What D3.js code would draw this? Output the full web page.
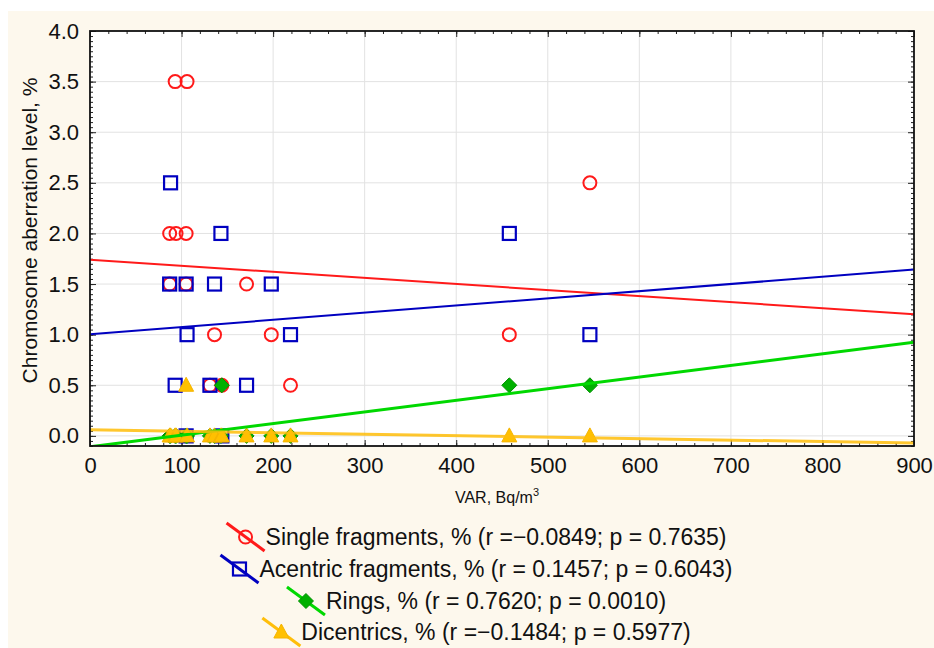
<!DOCTYPE html>
<html>
<head>
<meta charset="utf-8">
<script src="https://cdn.jsdelivr.net/npm/d3@7"></script>
<style>
  body { margin: 0; background: #fff; }
  svg { display: block; font-family: "Liberation Sans", Arial, sans-serif; }
</style>
</head>
<body>
<div id="chart"></div>
<script>
// tick values
const xTicks = [0, 100, 200, 300, 400, 500, 600, 700, 800, 900];
const yTicks = [0, 0.5, 1, 1.5, 2, 2.5, 3, 3.5, 4];

// points (VAR, %)
const singleX = [93, 106, 87, 94, 105, 87, 105, 171, 136, 198, 458, 131, 144, 219, 546];
const singleY = [3.5, 3.5, 2.0, 2.0, 2.0, 1.5, 1.5, 1.5, 1.0, 1.0, 1.0, 0.5, 0.5, 0.5, 2.5];

const acentricX = [88, 143, 458, 87, 105, 136, 198, 106, 219, 546, 93, 131, 171, 105, 144];
const acentricY = [2.5, 2.0, 2.0, 1.5, 1.5, 1.5, 1.5, 1.0, 1.0, 1.0, 0.5, 0.5, 0.5, 0.0, 0.0];

const ringsX = [144, 458, 546, 87, 88, 93, 94, 105, 106, 131, 136, 171, 198, 219, 143];
const ringsY = [0.5, 0.5, 0.5, 0, 0, 0, 0, 0, 0, 0, 0, 0, 0, 0, 0];

const dicentricsX = [105, 87, 88, 93, 94, 106, 131, 136, 143, 144, 171, 198, 219, 458, 546];
const dicentricsY = [0.5, 0, 0, 0, 0, 0, 0, 0, 0, 0, 0, 0, 0, 0, 0];

const legendLabels = [
  "Single fragments, % (r =\u22120.0849; p = 0.7635)",
  "Acentric fragments, % (r = 0.1457; p = 0.6043)",
  "Rings, % (r = 0.7620; p = 0.0010)",
  "Dicentrics, % (r =\u22120.1484; p = 0.5977)"
];

const series = [
  {xs: singleX, ys: singleY, color: "#ff1a1a", shape: "circle", lw: 2},
  {xs: acentricX, ys: acentricY, color: "#0000c0", shape: "square", lw: 2},
  {xs: ringsX, ys: ringsY, color: "#00d800", shape: "diamond", lw: 3},
  {xs: dicentricsX, ys: dicentricsY, color: "#ffbe0a", shape: "triangle", lw: 3}
];

const width = 934, height = 648;
const pL = 90, pR = 914, pT = 31, pB = 446;

const svg = d3.select("#chart").append("svg")
  .attr("width", width).attr("height", height);

svg.append("rect").attr("x", 8).attr("y", 11)
  .attr("width", width - 8).attr("height", height - 11)
  .attr("fill", "#fdf8ed");

const x = d3.scaleLinear().domain([0, 900]).range([pL, pR]);
const y = d3.scaleLinear().domain([-0.1, 4.0]).range([pB, pT]);

svg.append("rect").attr("x", pL).attr("y", pT)
  .attr("width", pR - pL).attr("height", pB - pT).attr("fill", "#fff");

svg.append("clipPath").attr("id", "plot")
  .append("rect").attr("x", pL).attr("y", pT)
  .attr("width", pR - pL).attr("height", pB - pT);

// grid
svg.append("g").selectAll("line").data(xTicks.slice(1, -1)).join("line")
  .attr("x1", d => x(d)).attr("x2", d => x(d))
  .attr("y1", pT).attr("y2", pB)
  .attr("stroke", "#e2e2e2").attr("stroke-width", 1);
svg.append("g").selectAll("line").data(yTicks).join("line")
  .attr("x1", pL).attr("x2", pR)
  .attr("y1", d => y(d)).attr("y2", d => y(d))
  .attr("stroke", "#e2e2e2").attr("stroke-width", 1);

// minor + major ticks, all pointing inward
const minorX = d3.range(0, 901, 20);
const minorY = d3.range(-0.1, 4.001, 0.05).map(v => Math.round(v * 100) / 100);

function tickAxes(axisFn, scale, pos, vals, size) {
  svg.append("g").attr("transform", pos)
    .call(axisFn(scale).tickValues(vals).tickSize(size).tickFormat(""))
    .call(g => g.select(".domain").remove())
    .selectAll("line").attr("stroke", "#222");
}
tickAxes(d3.axisBottom, x, `translate(0,${pB})`, minorX, -3);
tickAxes(d3.axisBottom, x, `translate(0,${pB})`, xTicks, -6);
tickAxes(d3.axisTop, x, `translate(0,${pT})`, minorX, -3);
tickAxes(d3.axisTop, x, `translate(0,${pT})`, xTicks, -6);
tickAxes(d3.axisLeft, y, `translate(${pL},0)`, minorY, -3);
tickAxes(d3.axisLeft, y, `translate(${pL},0)`, yTicks, -6);
tickAxes(d3.axisRight, y, `translate(${pR},0)`, minorY, -3);
tickAxes(d3.axisRight, y, `translate(${pR},0)`, yTicks, -6);

// tick labels
svg.append("g").attr("transform", `translate(0,${pB})`)
  .call(d3.axisBottom(x).tickValues(xTicks).tickSize(0).tickPadding(11).tickFormat(d3.format("d")))
  .call(g => g.select(".domain").remove())
  .selectAll("text").attr("font-size", 22).attr("fill", "#111")
  .style("font-family", "'Liberation Sans', Arial, sans-serif");

svg.append("g").attr("transform", `translate(${pL},0)`)
  .call(d3.axisLeft(y).tickValues(yTicks).tickSize(0).tickPadding(11).tickFormat(d3.format(".1f")))
  .call(g => g.select(".domain").remove())
  .selectAll("text").attr("font-size", 22).attr("fill", "#111")
  .style("font-family", "'Liberation Sans', Arial, sans-serif");

// axis titles
svg.append("text")
  .attr("transform", `translate(37,${(pT + pB) / 2 - 8}) rotate(-90)`)
  .attr("text-anchor", "middle").attr("font-size", 21).attr("fill", "#111")
  .text("Chromosome aberration level, %");

const xt = svg.append("text").attr("x", 497).attr("y", 503)
  .attr("text-anchor", "middle").attr("font-size", 16).attr("fill", "#111");
xt.append("tspan").text("VAR, Bq/m");
xt.append("tspan").attr("dy", -7).attr("font-size", 11).text("3");

// markers
function marker(sel, s) {
  if (s.shape === "circle") {
    sel.append("circle").attr("r", 6.5).attr("fill", "none")
      .attr("stroke", s.color).attr("stroke-width", 2);
  } else if (s.shape === "square") {
    sel.append("rect").attr("x", -6.5).attr("y", -6.5).attr("width", 13).attr("height", 13)
      .attr("fill", "none").attr("stroke", s.color).attr("stroke-width", 2.2);
  } else if (s.shape === "diamond") {
    sel.append("path").attr("d", "M0,-7.5L7.5,0L0,7.5L-7.5,0Z")
      .attr("fill", "#00b000").attr("stroke", "#009000").attr("stroke-width", 1);
  } else {
    sel.append("path").attr("d", "M0,-8L7.5,6L-7.5,6Z")
      .attr("fill", "#ffc000").attr("stroke", "#f5b400").attr("stroke-width", 1);
  }
}

const pts = svg.append("g");
series.forEach(s => {
  const data = s.xs.map((v, i) => [v, s.ys[i]]);
  pts.append("g").selectAll("g").data(data).join("g")
    .attr("transform", d => `translate(${x(d[0])},${y(d[1])})`)
    .each(function () { marker(d3.select(this), s); });
});

// least-squares fits
function fit(xs, ys) {
  const mx = d3.mean(xs), my = d3.mean(ys);
  const sxy = d3.sum(xs, (v, i) => (v - mx) * (ys[i] - my));
  const sxx = d3.sum(xs, v => (v - mx) ** 2);
  const b = sxy / sxx;
  return [my - b * mx, b];
}

const lines = svg.append("g").attr("clip-path", "url(#plot)");
series.forEach(s => {
  const [a, b] = fit(s.xs, s.ys);
  lines.append("line")
    .attr("x1", x(0)).attr("y1", y(a))
    .attr("x2", x(900)).attr("y2", y(a + b * 900))
    .attr("stroke", s.color).attr("stroke-width", s.lw)
    .attr("opacity", s.shape === "triangle" ? 0.85 : 1);
});

// frame
svg.append("rect").attr("x", pL).attr("y", pT)
  .attr("width", pR - pL).attr("height", pB - pT)
  .attr("fill", "none").attr("stroke", "#111").attr("stroke-width", 1.8);

// legend
const legend = svg.append("g");
const rowY = [537, 569, 601, 632];
series.forEach((s, i) => {
  const row = legend.append("g");
  const txt = row.append("text").attr("x", 20).attr("y", 8)
    .attr("font-size", 23).attr("fill", "#111").text(legendLabels[i]);
  const w = txt.node().getComputedTextLength() + 40;
  row.append("line").attr("x1", -19).attr("y1", -14).attr("x2", 19).attr("y2", 14)
    .attr("stroke", s.color).attr("stroke-width", 3);
  const m = row.append("g");
  marker(m, s);
  row.attr("transform", `translate(${478 - w / 2 + 18},${rowY[i]})`);
});
</script>
</body>
</html>
